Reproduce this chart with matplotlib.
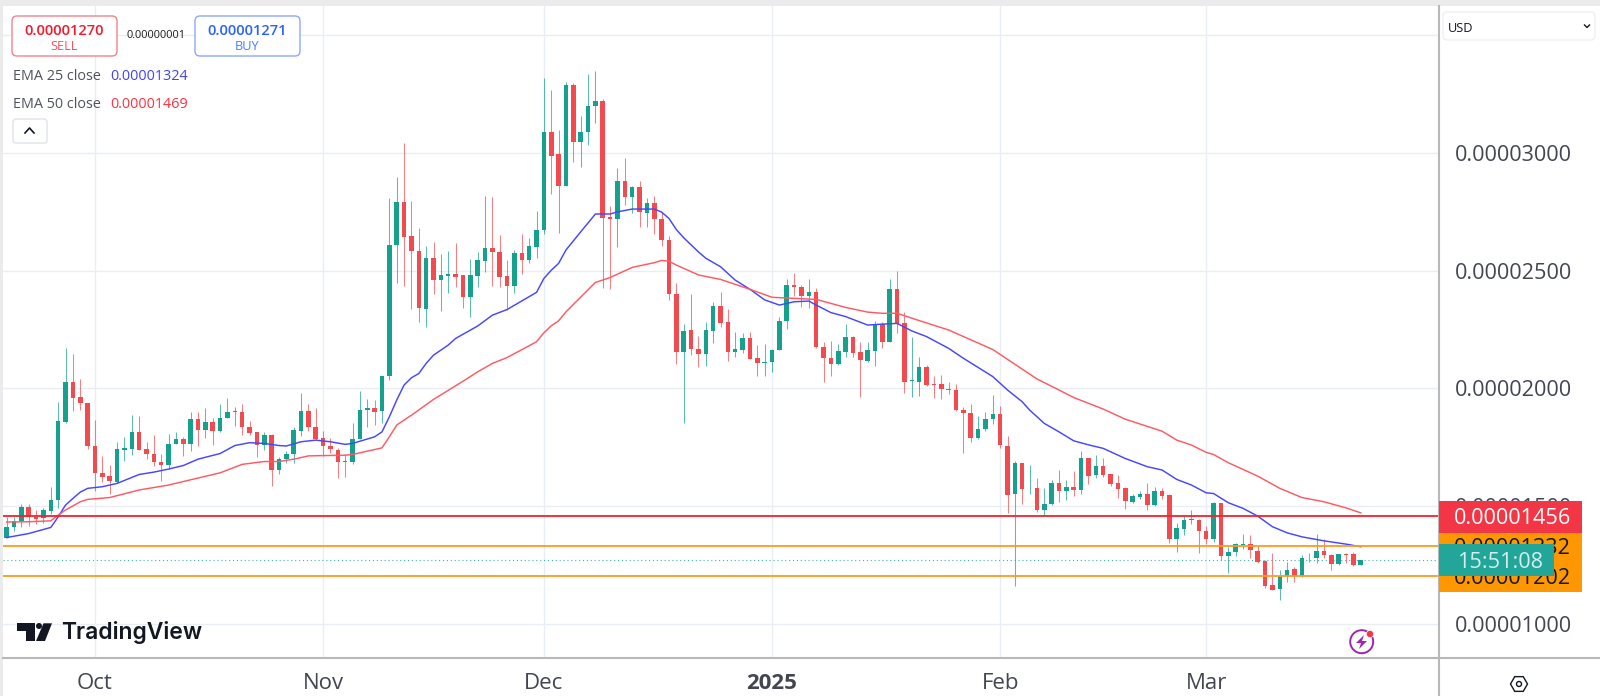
import numpy as np
import matplotlib
matplotlib.use("Agg")
import matplotlib.pyplot as plt
from matplotlib.patches import Rectangle, FancyBboxPatch, Circle, Polygon, RegularPolygon

plt.rcParams['font.family'] = ['Open Sans', 'DejaVu Sans']

# Prices are in units of 0.00000001 USD; one candle per day from 19 Sep
opens = [1366,1412,1436,1497,1454,1450,1478,1525,1858,2028,
1964,1936,1756,1641,1627,1603,1740,1743,1814,1742,
1723,1689,1674,1764,1784,1764,1869,1824,1856,1820,
1875,1900,1900,1837,1814,1760,1801,1651,1701,1721,
1820,1905,1837,1789,1757,1740,1689,1687,1784,1908,
1916,1903,2052,2610,2790,2647,2583,2338,2555,2461,
2478,2488,2480,2389,2478,2542,2596,2579,2476,2435,
2575,2545,2602,2673,3090,2995,2861,3289,3048,3089,
3200,3222,2728,2718,2882,2814,2855,2746,2786,2718,
2630,2403,2156,2248,2169,2147,2245,2350,2281,2156,
2163,2213,2129,2109,2112,2163,2288,2439,2432,2392,
2408,2176,2129,2104,2156,2220,2153,2115,2160,2274,
2198,2421,2276,2031,2028,2089,2019,2017,1997,1993,
1909,1896,1791,1828,1868,1889,1757,1552,1681,1575,
1577,1484,1508,1597,1563,1582,1568,1702,1630,1670,
1634,1597,1577,1519,1538,1553,1504,1562,1546,1359,
1403,1440,1440,1393,1359,1514,1288,1304,1335,1338,
1310,1267,1165,1147,1203,1233,1202,1277,1279,1310,
1293,1253,1296,1294,1250]

closes = [1409,1437,1497,1454,1444,1483,1525,1861,2028,1960,
1936,1756,1641,1624,1607,1742,1746,1814,1740,1723,
1688,1675,1764,1784,1763,1869,1824,1856,1820,1876,
1900,1905,1837,1811,1760,1801,1651,1701,1721,1821,
1905,1837,1784,1756,1743,1688,1688,1784,1909,1916,
1899,2052,2609,2790,2644,2582,2342,2555,2461,2480,
2488,2473,2388,2480,2544,2596,2578,2474,2435,2575,
2545,2605,2675,3090,2987,2861,3289,3049,3090,3200,
3222,2722,2718,2882,2814,2855,2749,2786,2718,2630,
2403,2154,2244,2167,2147,2248,2350,2279,2156,2166,
2213,2126,2108,2113,2164,2288,2439,2431,2392,2410,
2174,2128,2104,2157,2220,2152,2119,2162,2274,2198,
2424,2274,2028,2036,2089,2016,2016,1997,1994,1908,
1895,1791,1828,1868,1889,1760,1546,1681,1572,1577,
1484,1509,1597,1563,1582,1568,1702,1627,1670,1630,
1594,1572,1521,1542,1553,1504,1562,1543,1361,1405,
1440,1443,1392,1361,1514,1288,1305,1338,1338,1313,
1264,1160,1144,1203,1230,1201,1277,1281,1310,1291,
1253,1294,1293,1249,1270]

highs = [1454,1454,1508,1508,1485,1492,1579,1943,2170,2146,
2041,1936,1865,1712,1674,1773,1794,1886,1882,1770,
1801,1721,1808,1814,1794,1898,1898,1915,1872,1933,
1957,1919,1933,1861,1814,1815,1808,1709,1733,1837,
1981,1933,1916,1818,1791,1746,1723,1854,1990,1953,
1950,2052,2807,2899,3041,2796,2680,2607,2624,2571,
2582,2616,2483,2548,2579,2817,2814,2651,2545,2588,
2656,2640,2755,3319,3268,3098,3304,3299,3157,3338,
3347,3228,2775,2935,2977,2860,2882,2807,2817,2749,
2647,2446,2274,2401,2223,2281,2366,2408,2336,2241,
2234,2241,2184,2189,2166,2305,2463,2492,2441,2465,
2428,2196,2201,2189,2274,2223,2196,2197,2285,2281,
2463,2497,2325,2217,2132,2099,2053,2057,2026,2017,
1919,1933,1882,1898,1970,1925,1797,1691,1684,1674,
1619,1575,1610,1655,1610,1650,1733,1705,1718,1702,
1638,1630,1580,1553,1563,1599,1579,1576,1553,1426,
1457,1485,1443,1415,1518,1514,1327,1341,1382,1376,
1330,1270,1300,1230,1262,1239,1290,1301,1382,1358,
1298,1298,1301,1304,1270]

lows = [1366,1393,1412,1416,1423,1429,1468,1490,1854,1903,
1908,1742,1565,1603,1551,1596,1692,1715,1738,1701,
1671,1607,1657,1763,1712,1735,1755,1791,1759,1815,
1872,1841,1801,1801,1709,1740,1585,1638,1681,1684,
1797,1818,1780,1713,1726,1620,1624,1680,1783,1834,
1844,1854,2035,2446,2436,2337,2283,2262,2401,2330,
2406,2432,2341,2304,2429,2494,2435,2429,2335,2406,
2488,2534,2556,2658,2824,2661,2860,2963,2942,3035,
3129,2425,2422,2602,2779,2746,2687,2687,2656,2605,
2375,2103,1851,2142,2089,2096,2191,2259,2115,2135,
2152,2126,2051,2051,2071,2163,2251,2392,2347,2343,
2170,2028,2053,2101,2135,2132,1965,2112,2096,2170,
2198,2237,1979,1965,1969,2010,1960,1953,1975,1905,
1726,1773,1784,1820,1848,1746,1471,1161,1507,1550,
1475,1463,1504,1515,1525,1542,1550,1593,1617,1624,
1587,1536,1487,1514,1531,1483,1502,1529,1344,1304,
1376,1423,1301,1338,1345,1270,1216,1287,1317,1277,
1256,1152,1143,1100,1178,1178,1199,1263,1259,1280,
1228,1249,1259,1245,1250]

ema25_days = [0,3,6,7,8,9,10,11,13,15,18,20,22,24,26,29,31,33,35,37,38,40,42,44,46,47,50,51,52,53,54,55,56,57,58,60,61,64,66,68,72,73,74,75,76,78,80,82,83,85,87,88,89,90,91,92,94,95,97,99,101,103,105,106,107,109,110,112,114,117,119,121,123,125,128,130,132,134,136,138,139,141,143,145,147,149,152,155,157,159,161,163,164,166,168,170,172,174,176,179,182,184]
ema25_vals = [1366,1383,1409,1454,1504,1532,1559,1575,1582,1596,1634,1644,1657,1672,1699,1723,1757,1769,1766,1757,1755,1773,1780,1773,1762,1766,1794,1815,1879,1950,2014,2045,2063,2106,2141,2184,2212,2265,2311,2335,2408,2467,2502,2531,2588,2665,2741,2741,2750,2762,2762,2762,2749,2722,2675,2640,2580,2553,2517,2460,2421,2376,2354,2361,2368,2371,2354,2322,2305,2269,2273,2276,2244,2220,2170,2128,2089,2050,1993,1943,1908,1851,1815,1777,1760,1745,1702,1667,1653,1613,1589,1556,1553,1514,1490,1457,1412,1386,1369,1352,1338,1327]

ema50_days = [0,3,6,7,8,10,11,14,18,22,24,29,32,35,37,39,41,46,47,51,52,53,55,56,58,62,64,66,68,72,73,74,75,76,80,82,85,88,89,90,91,94,97,101,104,106,110,114,117,119,121,124,128,134,140,143,145,149,152,157,159,161,163,164,166,170,173,176,179,182,184]
ema50_vals = [1432,1433,1437,1461,1483,1518,1528,1536,1568,1589,1604,1641,1677,1689,1689,1699,1713,1716,1719,1747,1794,1844,1886,1908,1953,2030,2070,2106,2131,2198,2236,2266,2287,2325,2450,2471,2514,2534,2544,2540,2524,2482,2463,2421,2387,2384,2378,2344,2324,2319,2319,2288,2248,2165,2040,1993,1961,1912,1869,1818,1780,1759,1728,1719,1684,1627,1575,1536,1518,1492,1471]

month_days = [12, 43, 73, 104, 135, 163]
month_labels = ['Oct', 'Nov', 'Dec', '2025', 'Feb', 'Mar']
price_ticks = [1000, 1500, 2000, 2500, 3000, 3500]
level_red = 1456
levels_orange = [1332, 1202]
last_price = 1270
PRICE_UNIT = 1e-8

UP, DOWN = '#16a08e', '#f24b4f'
W, H = 1600, 696
fig = plt.figure(figsize=(W / 100, H / 100), dpi=100, facecolor='white')

# frame strips
bg = fig.add_axes([0, 0, 1, 1], zorder=0)
bg.set_xlim(0, W); bg.set_ylim(H, 0); bg.axis('off')
bg.add_patch(Rectangle((0, 0), W, 6, fc='#ebebeb', ec='none'))
bg.add_patch(Rectangle((0, 0), 3, H, fc='#ebebeb', ec='none'))

# main chart area: x 3..1438, y 6..658
ax = fig.add_axes([3 / W, (H - 658) / H, 1435 / W, 652 / H], zorder=1)
ax.patch.set_alpha(0)
ax.set_xlim(-0.5, 194.5)
ax.set_ylim(854, 3625)
for s in ax.spines.values():
    s.set_visible(False)
ax.set_axisbelow(True)
ax.grid(True, color='#e8eef4', lw=1.0)
ax.yaxis.tick_right()
ax.set_yticks(price_ticks)
ax.set_yticklabels([f'{v * PRICE_UNIT:.8f}' if v < 3500 else '' for v in price_ticks])
ax.tick_params(axis='y', length=0, pad=12, labelsize=15.6, labelcolor='#434651')
ax.set_xticks(month_days)
ax.set_xticklabels(month_labels)
ax.tick_params(axis='x', length=0, pad=10.5, labelsize=16, labelcolor='#434651')
for lab in ax.get_xticklabels():
    if lab.get_text() == '2025':
        lab.set_fontweight('bold')

days = np.arange(len(closes))
o, c, hi, lo = map(np.array, (opens, closes, highs, lows))
cols = [UP if a >= b else DOWN for a, b in zip(c, o)]
ax.vlines(days, lo, hi, colors=cols, lw=0.75, alpha=0.7, zorder=2)
body_h = np.maximum(np.abs(c - o), 2)
ax.bar(days, body_h, bottom=np.minimum(o, c), width=0.62, color=cols, lw=0, zorder=3)

ax.plot(ema25_days, ema25_vals, color='#4646ff', lw=1.05, zorder=4)
ax.plot(ema50_days, ema50_vals, color='#ff5a64', lw=1.05, zorder=4)

ax.axhline(level_red, color='#f7202c', lw=1.3, zorder=5)
for lv in levels_orange:
    ax.axhline(lv, color='#ff9a1f', lw=1.3, zorder=5)
ax.axhline(last_price, color='#16a08e', lw=0.8, ls=(0, (1, 2.5)), alpha=0.8, zorder=2)

# overlay in pixel coordinates
ov = fig.add_axes([0, 0, 1, 1], zorder=3)
ov.set_xlim(0, W); ov.set_ylim(H, 0); ov.axis('off'); ov.patch.set_alpha(0)

# separators
ov.plot([1439, 1439], [6, H], color='#b8b8b8', lw=1.5)
ov.plot([3, W], [658, 658], color='#b8b8b8', lw=1.5)

# price badges: teal countdown sits above the orange labels
ov.add_patch(Rectangle((1439, 533), 143, 59, fc='#ff9800', ec='none', zorder=10))
ov.add_patch(Rectangle((1439, 501), 143, 32, fc='#f23645', ec='none', zorder=10))
ov.text(1454, 519, f'{level_red * PRICE_UNIT:.8f}', color='white', fontsize=15.6, weight='medium', va='center', zorder=11)
ov.text(1454, 548, f'{levels_orange[0] * PRICE_UNIT:.8f}', color='#131722', fontsize=15.6, va='center', zorder=11)
ov.text(1454, 579, f'{levels_orange[1] * PRICE_UNIT:.8f}', color='#131722', fontsize=15.6, va='center', zorder=11)
ov.add_patch(Rectangle((1439, 544), 115, 32, fc='#22a699', ec='none', zorder=12))
ov.text(1500, 562, '15:51:08', color='#d2efeb', fontsize=15.6, va='center', ha='center', zorder=13)

def box(x0, y0, x1, y1, ec, r=5, lw=1.0):
    ov.add_patch(FancyBboxPatch((x0 + r, y0 + r), x1 - x0 - 2 * r, y1 - y0 - 2 * r,
                                boxstyle=f'round,pad={r},rounding_size={r}',
                                fc='white', ec=ec, lw=lw))

# sell / buy widgets
box(12, 16, 117, 56, '#f9808a')
ov.text(64.5, 31, '0.00001270', color='#f7182c', fontsize=10.6, ha='center', va='center', weight='semibold')
ov.text(64.5, 46, 'SELL', color='#f4525e', fontsize=9.2, ha='center', va='center')
box(195, 16, 300, 56, '#8aa8ff')
ov.text(247.5, 31, '0.00001271', color='#2962ff', fontsize=10.6, ha='center', va='center', weight='semibold')
ov.text(247.5, 46, 'BUY', color='#4b7bff', fontsize=9.2, ha='center', va='center')
ov.text(156, 36, '0.00000001', color='#1c1c1c', fontsize=7.9, ha='center', va='center')

# legend
ov.text(13, 76.5, 'EMA 25 close', color='#50535e', fontsize=10.4, va='center')
ov.text(110.5, 76.5, '0.00001324', color='#4040ff', fontsize=10.4, va='center')
ov.text(13, 105, 'EMA 50 close', color='#50535e', fontsize=10.4, va='center')
ov.text(110.5, 105, '0.00001469', color='#ff2f3f', fontsize=10.4, va='center')
box(13, 119, 47, 143, '#e0e3eb', r=3)
ov.plot([25, 29.5, 34], [133, 128, 133], color='#131722', lw=1.2)

# TradingView logo
logo = '#131722'
ov.add_patch(Polygon([(17, 623.3), (35, 623.3), (35, 641), (26, 641), (26, 630.7), (17, 630.7)], fc=logo, ec='none'))
ov.add_patch(Circle((39, 626), 3, fc=logo, ec='none'))
ov.add_patch(Polygon([(52, 623.3), (43.5, 623.3), (36, 641), (45, 641)], fc=logo, ec='none'))
ov.text(61, 633, 'TradingView', color=logo, fontsize=16.5, weight='semibold', family='Inter', va='center')

# lightning icon
ov.add_patch(Circle((1361.7, 641.7), 11.5, fc='none', ec='#9c27b0', lw=1.4))
ov.add_patch(Polygon([(1364, 635), (1356, 643), (1361, 643), (1359, 649), (1367, 641), (1362, 641)], fc='#9c27b0', ec='none'))
ov.add_patch(Circle((1370, 634), 3.6, fc='#f23645', ec='white', lw=0.5))

# settings hexagon
ov.add_patch(RegularPolygon((1519, 684), 6, radius=8.5, orientation=np.pi / 2, fc='none', ec='#131722', lw=1.0))
ov.add_patch(Circle((1519, 684), 2.5, fc='none', ec='#131722', lw=1.0))

# currency dropdown
box(1443, 12, 1595, 40, '#eef0f3', r=4)
ov.text(1448, 28, 'USD', color='#131722', fontsize=9.2, va='center')
ov.plot([1584.5, 1587, 1589.5], [25, 27.5, 25], color='#131722', lw=1.0)

fig.savefig('out.png', dpi=100, facecolor='white')
